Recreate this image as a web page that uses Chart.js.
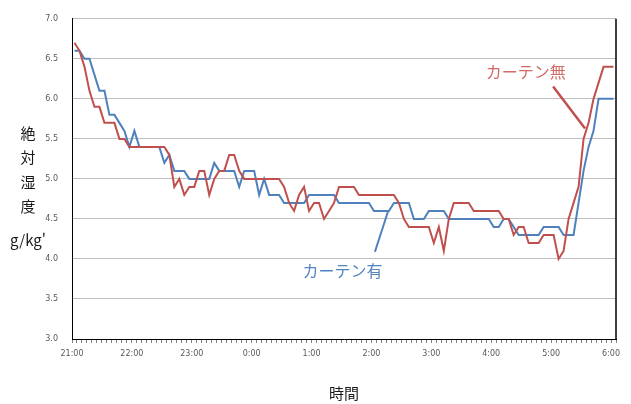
<!DOCTYPE html>
<html lang="ja">
<head>
<meta charset="utf-8">
<script src="https://cdn.jsdelivr.net/npm/chart.js@4/dist/chart.umd.min.js"></script>
<style>
  html, body { margin: 0; padding: 0; background: #fff; }
  #wrap { position: relative; width: 631px; height: 404px; }
</style>
</head>
<body>
<div id="wrap"><canvas id="c" width="631" height="404"></canvas></div>
<script>
// Hour labels along the time axis (one every 12 five-minute slots)
const hourLabels = ['21:00', '22:00', '23:00', '0:00', '1:00', '2:00', '3:00', '4:00', '5:00', '6:00'];

// Absolute humidity (g/kg'), one reading every 5 minutes from 21:00 to 6:00
const withCurtain = [
  6.6, 6.6, 6.5, 6.5, 6.3, 6.1, 6.1, 5.8, 5.8, 5.7,
  5.6, 5.4, 5.6, 5.4, 5.4, 5.4, 5.4, 5.4, 5.2, 5.3,
  5.1, 5.1, 5.1, 5.0, 5.0, 5.0, 5.0, 5.0, 5.2, 5.1,
  5.1, 5.1, 5.1, 4.9, 5.1, 5.1, 5.1, 4.8, 5.0, 4.8,
  4.8, 4.8, 4.7, 4.7, 4.7, 4.7, 4.7, 4.8, 4.8, 4.8,
  4.8, 4.8, 4.8, 4.7, 4.7, 4.7, 4.7, 4.7, 4.7, 4.7,
  4.6, 4.6, 4.6, 4.6, 4.7, 4.7, 4.7, 4.7, 4.5, 4.5,
  4.5, 4.6, 4.6, 4.6, 4.6, 4.5, 4.5, 4.5, 4.5, 4.5,
  4.5, 4.5, 4.5, 4.5, 4.4, 4.4, 4.5, 4.5, 4.4, 4.3,
  4.3, 4.3, 4.3, 4.3, 4.4, 4.4, 4.4, 4.4, 4.3, 4.3,
  4.3, 4.7, 5.1, 5.4, 5.6, 6.0, 6.0, 6.0, 6.0
];
const noCurtain = [
  6.7, 6.6, 6.4, 6.1, 5.9, 5.9, 5.7, 5.7, 5.7, 5.5,
  5.5, 5.4, 5.4, 5.4, 5.4, 5.4, 5.4, 5.4, 5.4, 5.3,
  4.9, 5.0, 4.8, 4.9, 4.9, 5.1, 5.1, 4.8, 5.0, 5.1,
  5.1, 5.3, 5.3, 5.1, 5.0, 5.0, 5.0, 5.0, 5.0, 5.0,
  5.0, 5.0, 4.9, 4.7, 4.6, 4.8, 4.9, 4.6, 4.7, 4.7,
  4.5, 4.6, 4.7, 4.9, 4.9, 4.9, 4.9, 4.8, 4.8, 4.8,
  4.8, 4.8, 4.8, 4.8, 4.8, 4.7, 4.5, 4.4, 4.4, 4.4,
  4.4, 4.4, 4.2, 4.4, 4.1, 4.5, 4.7, 4.7, 4.7, 4.7,
  4.6, 4.6, 4.6, 4.6, 4.6, 4.6, 4.5, 4.5, 4.3, 4.4,
  4.4, 4.2, 4.2, 4.2, 4.3, 4.3, 4.3, 4.0, 4.1, 4.5,
  4.7, 4.9, 5.5, 5.7, 6.0, 6.2, 6.4, 6.4, 6.4
];

const seriesNames = ['カーテン有', 'カーテン無'];
const seriesColors = ['#4F81BD', '#C0504D'];
const yTitleChars = ['絶', '対', '湿', '度'];
const yUnit = "g/kg'";
const xTitle = '時間';

// Each reading sits in the middle of its 5-minute slot on the time axis
const toPoints = arr => arr.map((v, i) => ({ x: i + 0.5, y: v }));
const slotCount = withCurtain.length;

// Series callouts: text anchor and leader line, in axis units (slot, humidity)
const callouts = [
  { text: seriesNames[0], color: '#5585C0', lineColor: '#4F81BD', lineWidth: 2,
    at: [54.2, 3.845], from: [60.7, 4.09], to: [63.3, 4.59] },
  { text: seriesNames[1], color: '#D06A67', lineColor: '#C0504D', lineWidth: 2.5,
    at: [90.9, 6.34], from: [96.4, 6.155], to: [102.8, 5.63] }
];

const leaderSets = callouts.map(c => ({
  data: [{ x: c.from[0], y: c.from[1] }, { x: c.to[0], y: c.to[1] }],
  borderColor: c.lineColor,
  borderWidth: c.lineWidth,
  pointRadius: 0,
  tension: 0,
  order: -1
}));

const decor = {
  id: 'decor',
  afterDatasetsDraw(chart) {
    const { ctx, chartArea, scales } = chart;
    ctx.save();
    // frame on the right of the plot
    ctx.strokeStyle = '#000';
    ctx.lineWidth = 1.5;
    ctx.beginPath();
    ctx.moveTo(chartArea.right, chartArea.top);
    ctx.lineTo(chartArea.right, chartArea.bottom);
    ctx.stroke();

    // callout texts
    ctx.font = '16px "Noto Sans CJK JP"';
    ctx.textAlign = 'center';
    ctx.textBaseline = 'middle';
    callouts.forEach(c => {
      ctx.fillStyle = c.color;
      ctx.fillText(c.text, scales.x.getPixelForValue(c.at[0]), scales.y.getPixelForValue(c.at[1]));
    });

    // stacked y-axis title
    ctx.fillStyle = '#1a1a1a';
    ctx.font = '15px "Noto Sans CJK JP"';
    const cx = 28;
    const top = 133;
    yTitleChars.forEach((ch, k) => ctx.fillText(ch, cx, top + k * 24.5));
    ctx.fillText(yUnit, cx, 240);
    ctx.restore();
  }
};

new Chart(document.getElementById('c'), {
  type: 'line',
  data: {
    datasets: [
      {
        label: seriesNames[1],
        data: toPoints(noCurtain),
        borderColor: seriesColors[1],
        borderWidth: 2,
        pointRadius: 0,
        tension: 0,
        order: 0
      },
      {
        label: seriesNames[0],
        data: toPoints(withCurtain),
        borderColor: seriesColors[0],
        borderWidth: 2,
        pointRadius: 0,
        tension: 0,
        order: 1
      },
      ...leaderSets
    ]
  },
  options: {
    responsive: false,
    animation: false,
    events: [],
    layout: { padding: { left: 0, right: 15, top: 17, bottom: 0 } },
    plugins: { legend: { display: false }, tooltip: { enabled: false } },
    scales: {
      x: {
        type: 'linear',
        min: 0,
        max: slotCount,
        afterFit: s => { s.height = 65; },
        ticks: {
          stepSize: 1,
          autoSkip: false,
          maxRotation: 0,
          padding: 6,
          color: '#595959',
          font: { size: 8, family: 'DejaVu Sans' },
          callback: v => (v % 12 === 0 ? hourLabels[v / 12] : '')
        },
        grid: { drawOnChartArea: false, drawTicks: true, tickLength: 4, color: '#808080' },
        border: { color: '#000', width: 1 },
        title: {
          display: true,
          text: xTitle,
          color: '#1a1a1a',
          font: { size: 15, family: 'Noto Sans CJK JP' },
          padding: { top: 0, bottom: 2 }
        }
      },
      y: {
        min: 3,
        max: 7,
        afterFit: s => { s.width = 72; },
        ticks: {
          stepSize: 0.5,
          padding: 14,
          color: '#595959',
          font: { size: 8, family: 'DejaVu Sans' },
          callback: v => v.toFixed(1)
        },
        grid: { color: '#BFBFBF', drawTicks: false },
        border: { color: '#000', width: 1 }
      }
    }
  },
  plugins: [decor]
});
</script>
</body>
</html>
